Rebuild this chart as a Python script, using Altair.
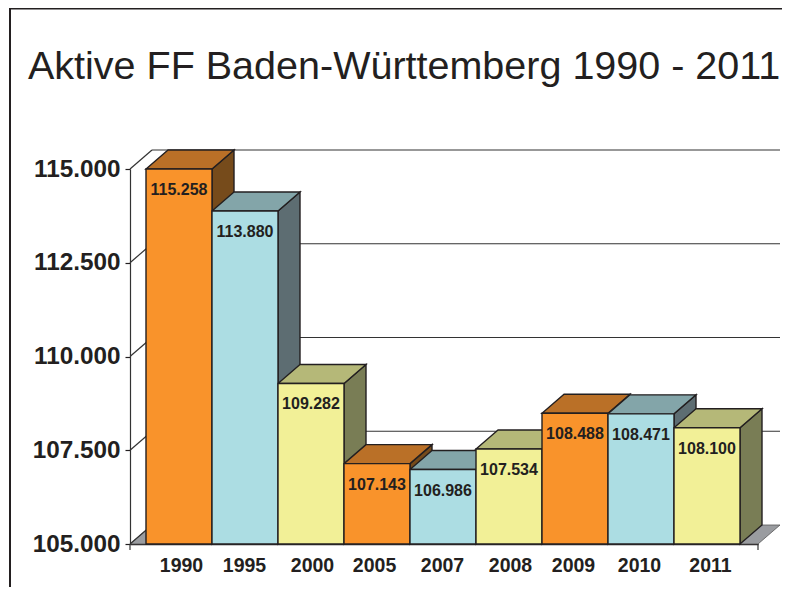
import altair as alt
import pandas as pd

years = ["1990", "1995", "2000", "2005", "2007", "2008", "2009", "2010", "2011"]
values = [115258, 113880, 109282, 107143, 106986, 107534, 108488, 108471, 108100]
labels = ["115.258", "113.880", "109.282", "107.143", "106.986", "107.534", "108.488", "108.471", "108.100"]
y_ticks = [105000, 107500, 110000, 112500, 115000]
label_pos = [0.53, 1.485, 2.515, 3.455, 4.485, 5.515, 6.47, 7.47, 8.545]
title_text = ["Aktive FF Baden-Württemberg 1990 - 2011"]

FRONT = ["#F9932B", "#ACDDE3", "#F2F097"]
TOP = ["#BA7027", "#83A5A9", "#B5B878"]
SIDE = ["#764B1B", "#5D6D72", "#797D55"]
INK = "#231F20"
FONT = "Liberation Sans"

Y_MIN, Y_MAX = 105000, 115000
X_MIN, X_MAX = -16 / 66, 612 / 66
DX = 22 / 66            # depth of the 3D box in x units
DY = 19 / 37.5 * 1000   # depth of the 3D box in value units
WALL_END = 634 / 66     # right end of back wall

xs = alt.Scale(domain=[X_MIN, X_MAX], nice=False, zero=False)
ys = alt.Scale(domain=[Y_MIN, Y_MAX], nice=False, zero=False)

year_expr = "[" + ",".join(f"'{y}'" for y in years) + "][floor(datum.value)]"
x_axis = alt.Axis(values=label_pos, labelExpr=year_expr, ticks=False, grid=False, title=None,
                  domainColor=INK, domainWidth=1.5, labelColor=INK, labelFont=FONT,
                  labelFontWeight="bold", labelFontSize=19.5, labelPadding=12,
                  labelFlush=False, labelOverlap=False, labelAngle=0)
y_axis = alt.Axis(values=y_ticks, grid=False, title=None, domainColor="#333333", domainWidth=1.2,
                  tickColor=INK, tickWidth=1.2, tickSize=5,
                  labelExpr="replace(format(datum.value, ','), ',', '.')",
                  labelColor=INK, labelFont=FONT, labelFontWeight="bold",
                  labelFontSize=24.3, labelPadding=5, labelOverlap=False)


def X(f):
    return alt.X(f, type="quantitative", scale=xs, axis=x_axis)


def Y(f):
    return alt.Y(f, type="quantitative", scale=ys, axis=y_axis, stack=None)


layers = []

# floor
floor_df = pd.DataFrame({
    "y": [Y_MIN, Y_MIN + DY],
    "x": [X_MIN, X_MIN + DX],
    "x2": [X_MAX, WALL_END],
})
layers.append(
    alt.Chart(floor_df).mark_area(orient="horizontal", fill="#9A9CA0", stroke="#555555", strokeWidth=0.8)
    .encode(x=X("x"), x2="x2", y=Y("y"))
)

# back wall lines and left wall diagonals
wall_df = pd.DataFrame({"y": [t + DY for t in y_ticks[1:]], "x": [X_MIN + DX] * 4, "x2": [WALL_END] * 4})
layers.append(
    alt.Chart(wall_df).mark_rule(color="#333333", strokeWidth=1.2)
    .encode(x=X("x"), x2="x2", y=Y("y"))
)
diag_rows = []
for t in y_ticks:
    diag_rows.append({"k": t, "x": X_MIN, "y": t})
    diag_rows.append({"k": t, "x": X_MIN + DX, "y": t + DY})
layers.append(
    alt.Chart(pd.DataFrame(diag_rows)).mark_line(color="#333333", strokeWidth=1.2, clip=False)
    .encode(x=X("x"), y=Y("y"), detail="k:N")
)

# small extensions of the axes
layers.append(
    alt.Chart(pd.DataFrame({"x": [X_MIN, X_MAX]})).mark_rule(color="#333333", strokeWidth=1.2)
    .encode(x=X("x"), y=alt.value(375), y2=alt.value(381))
)

# 3D bars: side and top faces
tops = [min(v, Y_MAX) for v in values]
for i, top in enumerate(tops):
    c = i % 3
    side = pd.DataFrame({
        "x": [i + 1, i + 1 + DX],
        "y": [Y_MIN, Y_MIN + DY],
        "y2": [top, top + DY],
    })
    layers.append(
        alt.Chart(side).mark_area(fill=SIDE[c], stroke=INK, strokeWidth=1.4, clip=False)
        .encode(x=X("x"), y=Y("y"), y2="y2")
    )
    face = pd.DataFrame({
        "y": [top, top + DY],
        "x": [i, i + DX],
        "x2": [i + 1, i + 1 + DX],
    })
    layers.append(
        alt.Chart(face).mark_area(orient="horizontal", fill=TOP[c], stroke=INK, strokeWidth=1.4, clip=False)
        .encode(x=X("x"), x2="x2", y=Y("y"))
    )

# front faces
front_df = pd.DataFrame({
    "x": list(range(9)),
    "x2": [i + 1 for i in range(9)],
    "base": [Y_MIN] * 9,
    "top": tops,
    "label": labels,
    "mid": [i + 0.5 for i in range(9)],
    "c": [FRONT[i % 3] for i in range(9)],
})
layers.append(
    alt.Chart(front_df).mark_rect(stroke=INK, strokeWidth=1.4)
    .encode(x=X("x"), x2="x2", y=Y("base"), y2="top", fill=alt.Fill("c:N", scale=None))
)
layers.append(
    alt.Chart(front_df).mark_text(font=FONT, fontWeight="bold", fontSize=16, color=INK,
                                  baseline="middle", dy=21)
    .encode(x=X("mid"), y=Y("top"), text="label:N")
)

# page title
layers.append(
    alt.Chart(pd.DataFrame({"t": title_text})).mark_text(
        font=FONT, fontSize=39.5, fontWeight="normal", color=INK, align="left", baseline="alphabetic"
    ).encode(x=alt.value(-102), y=alt.value(-90), text="t:N")
)

# page frame
layers.append(
    alt.Chart(pd.DataFrame({"a": [0]})).mark_rule(color=INK, strokeWidth=2)
    .encode(x=alt.value(-120), y=alt.value(-161), y2=alt.value(418))
)
layers.append(
    alt.Chart(pd.DataFrame({"a": [0]})).mark_rule(color=INK, strokeWidth=2)
    .encode(y=alt.value(-160.5), x=alt.value(-121), x2=alt.value(652))
)

chart = alt.layer(*layers).properties(
    width=628,
    height=375,
    padding={"left": 122, "top": 161, "right": 24, "bottom": 43},
    autosize=alt.AutoSizeParams(type="none"),
    background="white",
).configure_view(stroke=None)

chart.save("out.html", embed_options={"renderer": "svg", "actions": False})
